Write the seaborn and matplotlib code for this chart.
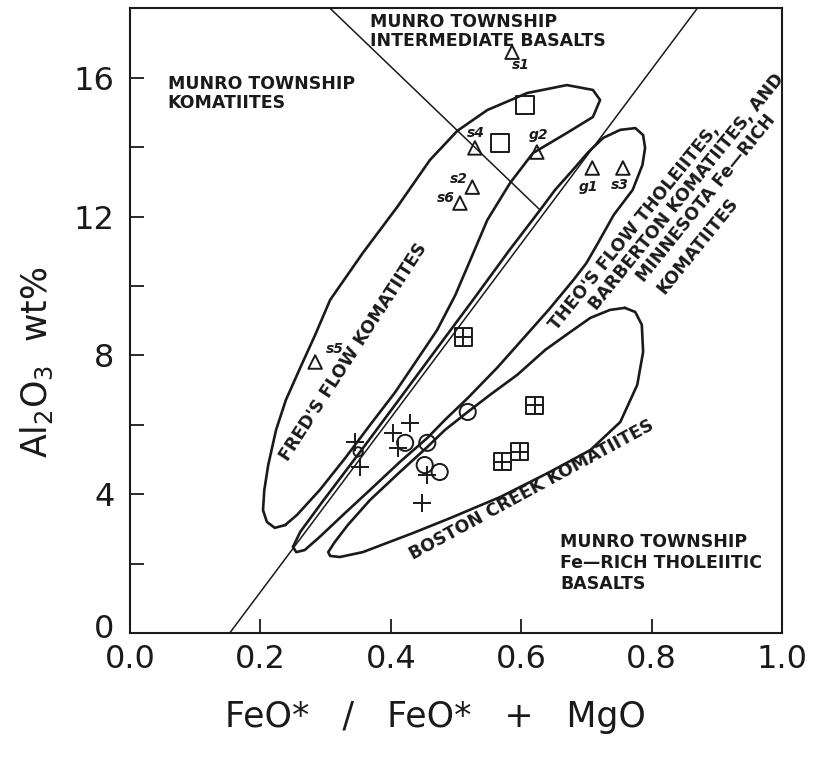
import numpy as np
import pandas as pd
import seaborn as sns
import matplotlib
matplotlib.use("Agg")
import matplotlib.pyplot as plt
from matplotlib.path import Path
from matplotlib.transforms import ScaledTranslation

# ---- digitised outlines (FeO*/(FeO*+MgO), Al2O3 wt%) ----
fred_x = [0.238, 0.222, 0.210, 0.204, 0.206, 0.212, 0.224, 0.239, 0.261, 0.284, 0.307,
          0.357, 0.410, 0.460, 0.502, 0.548, 0.609, 0.670, 0.710, 0.721, 0.710, 0.670,
          0.618, 0.583, 0.548, 0.522, 0.499, 0.471, 0.437, 0.406, 0.368, 0.330, 0.291, 0.256]
fred_y = [3.11, 3.03, 3.20, 3.54, 4.12, 4.84, 5.85, 6.71, 7.64, 8.59, 9.60,
          10.95, 12.28, 13.63, 14.47, 15.07, 15.56, 15.79, 15.65, 15.36, 14.87, 14.41,
          13.83, 12.97, 11.90, 10.75, 9.74, 8.73, 7.78, 6.92, 5.99, 5.04, 4.12, 3.40]

theo_x = [0.250, 0.261, 0.295, 0.353, 0.410, 0.468, 0.525, 0.581, 0.629, 0.652, 0.679,
          0.703, 0.726, 0.752, 0.775, 0.787, 0.790, 0.786, 0.771, 0.742, 0.716, 0.700,
          0.680, 0.642, 0.608, 0.563, 0.518, 0.483, 0.456, 0.414, 0.368, 0.330, 0.291,
          0.268, 0.255]
theo_y = [2.48, 2.91, 3.78, 5.22, 6.66, 8.13, 9.57, 11.01, 12.19, 12.77, 13.34,
          13.86, 14.27, 14.50, 14.55, 14.35, 13.98, 13.49, 12.77, 12.05, 11.18, 10.66,
          10.17, 9.31, 8.59, 7.64, 6.77, 6.14, 5.62, 4.93, 4.12, 3.46, 2.77,
          2.39, 2.33]

boston_x = [0.759, 0.736, 0.706, 0.675, 0.637, 0.594, 0.552, 0.518, 0.483, 0.456, 0.414,
            0.368, 0.334, 0.314, 0.304, 0.307, 0.322, 0.357, 0.434, 0.491, 0.568, 0.644,
            0.706, 0.752, 0.778, 0.787, 0.785, 0.775]
boston_y = [9.37, 9.31, 9.08, 8.67, 8.16, 7.44, 6.86, 6.37, 5.85, 5.36, 4.64,
            3.83, 3.11, 2.62, 2.33, 2.22, 2.19, 2.33, 2.88, 3.31, 3.92, 4.64,
            5.27, 6.08, 7.15, 8.10, 8.88, 9.25]

# straight boundary lines
nwse_x = [0.307, 0.629]
nwse_y = [18.0, 12.19]
diag_x = [0.153, 0.870]
diag_y = [0.0, 18.0]

# ---- samples ----
tri_names = ["s1", "s4", "g2", "s2", "s6", "g1", "s3", "s5"]
tri_x = [0.586, 0.529, 0.624, 0.525, 0.506, 0.709, 0.756, 0.284]
tri_y = [16.74, 13.98, 13.86, 12.85, 12.39, 13.40, 13.40, 7.81]

sq_x = [0.606, 0.567]
sq_y = [15.22, 14.12]

boxplus_x = [0.511, 0.621, 0.571, 0.598]
boxplus_y = [8.53, 6.57, 4.93, 5.22]

circ_x = [0.422, 0.456, 0.452, 0.475, 0.518]
circ_y = [5.48, 5.48, 4.84, 4.64, 6.37]
small_circ_x = [0.350]
small_circ_y = [5.22]

plus_x = [0.345, 0.353, 0.403, 0.429, 0.411, 0.456, 0.448]
plus_y = [5.50, 4.78, 5.76, 6.05, 5.33, 4.55, 3.75]

sns.set_theme(style="ticks")
plt.rcParams["font.family"] = ["DejaVu Sans"]
plt.rcParams["text.color"] = "k"
plt.rcParams["axes.labelcolor"] = "k"

fig = plt.figure(figsize=(8.15, 7.63), dpi=100)
ax = fig.add_axes([0.1595, 0.1704, 0.8, 0.8186])


def outline(xs, ys, lw):
    df = pd.DataFrame({"x": list(xs) + [xs[0]], "y": list(ys) + [ys[0]]})
    sns.lineplot(data=df, x="x", y="y", sort=False, estimator=None,
                 color="k", linewidth=lw, ax=ax)


outline(fred_x, fred_y, 1.9)
outline(theo_x, theo_y, 1.9)
outline(boston_x, boston_y, 1.9)
sns.lineplot(x=nwse_x, y=nwse_y, color="k", linewidth=1.1, ax=ax)
sns.lineplot(x=diag_x, y=diag_y, color="k", linewidth=1.1, ax=ax)

# square with a cross inside
boxplus = Path([(-1, -1), (1, -1), (1, 1), (-1, 1), (-1, -1), (0, -1), (0, 1), (-1, 0), (1, 0)],
               [Path.MOVETO, Path.LINETO, Path.LINETO, Path.LINETO, Path.CLOSEPOLY,
                Path.MOVETO, Path.LINETO, Path.MOVETO, Path.LINETO])

open_kw = dict(facecolor="none", edgecolor="k", linewidth=1.4, zorder=5, legend=False, ax=ax)
sns.scatterplot(x=tri_x, y=tri_y, marker="^", s=95, **open_kw)
sns.scatterplot(x=sq_x, y=sq_y, marker="s", s=170, **open_kw)
sns.scatterplot(x=boxplus_x, y=boxplus_y, marker=boxplus, s=150, **open_kw)
sns.scatterplot(x=circ_x, y=circ_y, marker="o", s=135, **open_kw)
sns.scatterplot(x=small_circ_x, y=small_circ_y, marker="o", s=45, **open_kw)
sns.scatterplot(x=plus_x, y=plus_y, marker="+", s=160, color="k", linewidth=1.4,
                zorder=5, legend=False, ax=ax)

tri_offsets = {"s1": (6, -9), "s4": (1, 11), "g2": (1, 12), "s2": (-10, 6),
               "s6": (-10, 4), "g1": (-3, -14), "s3": (-2, -12), "s5": (14, 9)}
for name, x, y in zip(tri_names, tri_x, tri_y):
    ax.annotate(name, (x, y), xytext=tri_offsets[name], textcoords="offset points",
                ha="center", va="center", fontsize=10, style="italic", fontweight="bold",
                color="k")

lab = dict(fontsize=12.5, fontweight="bold", color="k")
ax.text(0.368, 17.88, "MUNRO TOWNSHIP\nINTERMEDIATE BASALTS", ha="left", va="top",
        linespacing=1.1, **lab)
ax.text(0.058, 16.08, "MUNRO TOWNSHIP\nKOMATIITES", ha="left", va="top",
        linespacing=1.1, **lab)
ax.text(0.660, 2.88, "MUNRO TOWNSHIP\nFe\u2014RICH THOLEIITIC\nBASALTS", ha="left", va="top",
        linespacing=1.2, **lab)
rot = dict(ha="left", va="baseline", rotation_mode="anchor")
ax.text(0.242, 4.93, "FRED'S FLOW KOMATIITES", rotation=57, **rot, **lab)
ax.text(0.434, 2.10, "BOSTON CREEK KOMATIITES", rotation=28.5, **rot, **lab)
ax.text(0.655, 8.70, "THEO'S FLOW THOLEIITES,", rotation=51, **rot, **lab)
ax.text(0.716, 9.28, "BARBERTON KOMATIITES, AND", rotation=51, **rot, **lab)
ax.text(0.789, 10.08, "MINNESOTA Fe\u2014RICH", rotation=51, **rot, **lab)
ax.text(0.820, 9.74, "KOMATIITES", rotation=51, **rot, **lab)

ax.set_xlim(0, 1)
ax.set_ylim(0, 18)
xt = [0.0, 0.2, 0.4, 0.6, 0.8, 1.0]
ax.set_xticks(xt)
ax.set_xticklabels(["%.1f" % v for v in xt])
ax.set_yticks([0, 4, 8, 12, 16])
ax.set_yticks([2, 6, 10, 14], minor=True)
ax.tick_params(axis="both", which="both", direction="in", length=10, width=1.3,
               labelsize=23, colors="k")
ax.tick_params(axis="y", pad=11)
ax.tick_params(axis="x", pad=8)
for sp in ax.spines.values():
    sp.set_visible(True)
    sp.set_linewidth(1.5)
    sp.set_color("k")

# lift the "0" on the y axis a little so it clears "0.0"
zero_lbl = ax.get_yticklabels()[0]
zero_lbl.set_transform(zero_lbl.get_transform() + ScaledTranslation(0, 5 / 72, fig.dpi_scale_trans))

ax.set_xlabel("FeO*   /   FeO*   +   MgO", fontsize=25)
ax.set_ylabel("Al$_2$O$_3$  wt%", fontsize=25)
ax.xaxis.set_label_coords(0.469, -0.108)
ax.yaxis.set_label_coords(-0.115, 0.434)

fig.savefig("out.png", dpi=100)
